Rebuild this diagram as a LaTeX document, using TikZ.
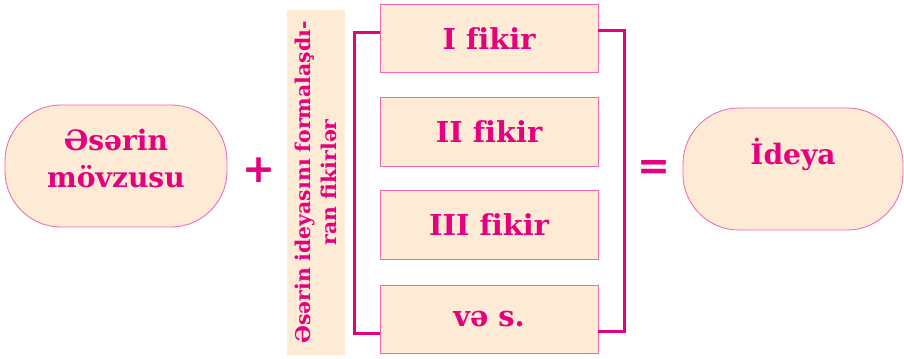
\documentclass[tikz,border=0pt]{standalone}
\usepackage{fontspec}
\setmainfont{DejaVu Serif}[Ligatures=NoCommon]
\newfontfamily\signfont{DejaVu Sans}
\usepackage{xcolor}
\usetikzlibrary{positioning}
\definecolor{peach}{HTML}{FDEBD6}
\definecolor{rimpink}{HTML}{F068B2}
\definecolor{inkpink}{HTML}{E5007D}

\begin{document}
\begin{tikzpicture}[
    x=0.025cm, y=-0.025cm,
    pill/.style={rectangle, rounded corners=1.4cm, draw=rimpink, fill=peach, line width=0.6pt,
      minimum width=5.55cm, minimum height=3.05cm, align=center, text=inkpink,
      font=\bfseries\fontsize{20}{26}\selectfont},
    idea/.style={rectangle, draw=rimpink, fill=peach, line width=0.6pt,
      minimum width=5.45cm, minimum height=1.72cm, text=inkpink,
      font=\bfseries\fontsize{20.5}{24}\selectfont},
    sign/.style={text=inkpink, font=\signfont\bfseries\fontsize{28}{28}\selectfont},
    bracket/.style={draw=inkpink, line width=2.2pt}
]
\useasboundingbox (0,0) rectangle (904,359);

% left and right parts
\node[pill] (theme) at (116,166)
  {\raisebox{-15pt}[0pt][0pt]{\begin{tabular}[b]{@{}c@{}}Əsərin\\mövzusu\end{tabular}}};
\node[pill, minimum width=5.5cm] (idea) at (793,169) {\raisebox{3pt}[0pt][0pt]{İdeya}};
\node[sign] (plus) at (258.5,170.5) {+};
\node[sign] (equal) at (654,170) {=};

% vertical caption
\node[rectangle, fill=peach, minimum width=1.45cm, minimum height=8.625cm] (band) at (316,182.5) {};
\node[rotate=90, text=inkpink, align=center, font=\bfseries\fontsize{14.5}{19}\selectfont]
    (bandtext) at (band.center) {Əsərin ideyasını formalaşdı-\\ran fikirlər};

% thoughts
\node[idea] (first) at (489,38.5) {I fikir};
\node[idea] (second) at (489,132) {II fikir};
\node[idea] (third) at (489,225) {III fikir};
\node[idea] (etc) at (489,319.5) {və s.};

% bracket
\coordinate (lt) at ([yshift=0.16cm]first.west);
\coordinate (lb) at ([yshift=-0.34cm]etc.west);
\coordinate (rt) at ([yshift=0.19cm]first.east);
\coordinate (rb) at ([yshift=-0.31cm]etc.east);
\draw[bracket] (lt) -- ++(-25,0) |- (lb);
\draw[bracket] (rt) -- ++(26,0) |- (rb);
\end{tikzpicture}
\end{document}
